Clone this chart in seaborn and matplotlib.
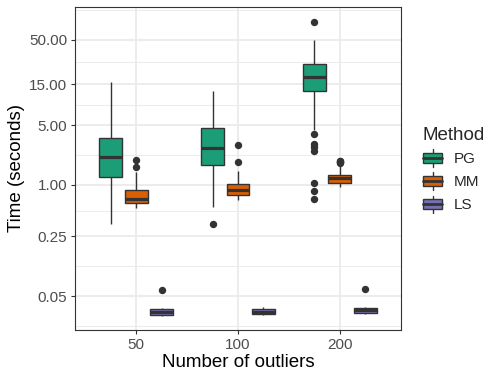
import numpy as np
import pandas as pd
import matplotlib
matplotlib.use("Agg")
import matplotlib.pyplot as plt
import seaborn as sns
from matplotlib.legend_handler import HandlerBase
from matplotlib.patches import Rectangle, Patch
from matplotlib.lines import Line2D
from matplotlib.ticker import FixedLocator, FixedFormatter

# ---------------- data ----------------
outlier_counts = ["50", "100", "200"]
methods = ["PG", "MM", "LS"]
method_colors = ["#1B9E77", "#D95F02", "#7570B3"]

# per-method box statistics, one entry per number of outliers
pg_low  = [0.346, 0.547, 4.33]
pg_q1   = [1.23, 1.70, 12.6]
pg_med  = [2.14, 2.69, 18.4]
pg_q3   = [3.52, 4.69, 26.2]
pg_high = [16.2, 12.5, 50.0]
pg_out  = [[], [0.352], [81.3, 3.95, 3.02, 2.79, 2.50, 1.05, 0.857, 0.686]]

mm_low  = [0.533, 0.667, 0.955]
mm_q1   = [0.619, 0.757, 1.06]
mm_med  = [0.680, 0.873, 1.20]
mm_q3   = [0.873, 1.01, 1.31]
mm_high = [1.42, 1.47, 1.70]
mm_out  = [[1.61, 1.96], [1.87, 2.92], [1.80, 1.83, 1.86, 1.89, 1.92]]

ls_low  = [0.0292, 0.0299, 0.0305]
ls_q1   = [0.0302, 0.0310, 0.0318]
ls_med  = [0.0325, 0.0329, 0.0340]
ls_q3   = [0.0349, 0.0349, 0.0361]
ls_high = [0.0362, 0.0368, 0.0375]
ls_out  = [[0.0583], [], [0.0604]]

y_breaks = [0.05, 0.25, 1.00, 5.00, 15.00, 50.00]
y_labels = ["0.05", "0.25", "1.00", "5.00", "15.00", "50.00"]

# ---------------- build samples reproducing the box statistics ----------------
stats = {
    "PG": (pg_low, pg_q1, pg_med, pg_q3, pg_high, pg_out),
    "MM": (mm_low, mm_q1, mm_med, mm_q3, mm_high, mm_out),
    "LS": (ls_low, ls_q1, ls_med, ls_q3, ls_high, ls_out),
}
rows = []
for m in methods:
    lo, q1, md, q3, hi, out = stats[m]
    for i, n in enumerate(outlier_counts):
        vals = [lo[i]] + [q1[i]] * 20 + [md[i]] * 20 + [q3[i]] * 20 + [hi[i]] + list(out[i])
        rows += [(n, m, v) for v in vals]
df = pd.DataFrame(rows, columns=["n", "Method", "time"])

# ---------------- styling ----------------
sns.set_theme(style="white")
plt.rcParams["font.family"] = ["Liberation Sans", "DejaVu Sans"]

fig = plt.figure(figsize=(5, 3.8), dpi=100)
ax = fig.add_axes([75 / 500, 1 - 330 / 380, 326 / 500, 323 / 380])

dark = "#333333"
sns.boxplot(
    data=df, x="n", y="time", hue="Method",
    order=outlier_counts, hue_order=methods,
    palette=method_colors, saturation=1,
    width=0.75, gap=0.1, whis=1.5,
    linecolor=dark, linewidth=1.0, fliersize=4.3,
    log_scale=(False, True),
    medianprops={"linewidth": 2.3, "color": dark},
    whiskerprops={"color": dark, "linewidth": 1.0},
    flierprops={"marker": "o", "markerfacecolor": dark, "markeredgecolor": dark},
    showcaps=False,
    legend=False,
    ax=ax,
)

ax.set_xlim(-0.6, 2.6)
ax.set_ylim(10 ** -1.699, 10 ** 2.082)

# y ticks + ggplot style minor breaks (midpoints in log space)
ax.yaxis.set_major_locator(FixedLocator(y_breaks))
ax.yaxis.set_major_formatter(FixedFormatter(y_labels))
lb = np.log10(y_breaks)
step = lb[1] - lb[0]
ext = np.concatenate([[lb[0] - step], lb, [lb[-1] + step]])
minor = 10 ** ((ext[:-1] + ext[1:]) / 2)
ax.yaxis.set_minor_locator(FixedLocator(minor))
ax.yaxis.set_minor_formatter(FixedFormatter([""] * len(minor)))

ax.set_axisbelow(True)
ax.grid(which="major", axis="both", color="#EBEBEB", linewidth=1.3)
ax.grid(which="minor", axis="y", color="#EBEBEB", linewidth=0.7)

for s in ax.spines.values():
    s.set_visible(True)
    s.set_color(dark)
    s.set_linewidth(0.8)

ax.tick_params(axis="both", which="major", length=3, width=0.8, color=dark,
               labelcolor="#4D4D4D", labelsize=11, pad=2.5, left=True, bottom=True)
ax.tick_params(axis="y", which="minor", length=0)

ax.set_xlabel("Number of outliers", fontsize=13.5, color="black", labelpad=2)
ax.set_ylabel("Time (seconds)", fontsize=13.5, color="black", labelpad=3)


# ---------------- legend with ggplot-like box keys ----------------
class BoxKey(HandlerBase):
    def create_artists(self, legend, orig_handle, xdescent, ydescent,
                       width, height, fontsize, trans):
        x0, y0 = -xdescent, -ydescent
        cx, cy = x0 + width / 2, y0 + height / 2
        whisk = Line2D([cx, cx], [y0, y0 + height], color=dark, lw=1.0, transform=trans)
        box = Rectangle((x0, y0 + 0.22 * height), width, 0.56 * height,
                        facecolor=orig_handle.get_facecolor(), edgecolor=dark,
                        lw=1.0, transform=trans)
        med = Line2D([x0, x0 + width], [cy, cy], color=dark, lw=2.0, transform=trans)
        return [whisk, box, med]


handles = [Patch(facecolor=c) for c in method_colors]
fig.legend(handles, methods, title="Method", loc="center left",
           bbox_to_anchor=(423 / 500, 1 - 170 / 380), frameon=False,
           fontsize=11, title_fontsize=13.5, handlelength=1.25, handleheight=1.4,
           handletextpad=0.75, labelspacing=0.36, alignment="left",
           borderpad=0, borderaxespad=0,
           handler_map={Patch: BoxKey()})

fig.savefig("out.png", dpi=100)
